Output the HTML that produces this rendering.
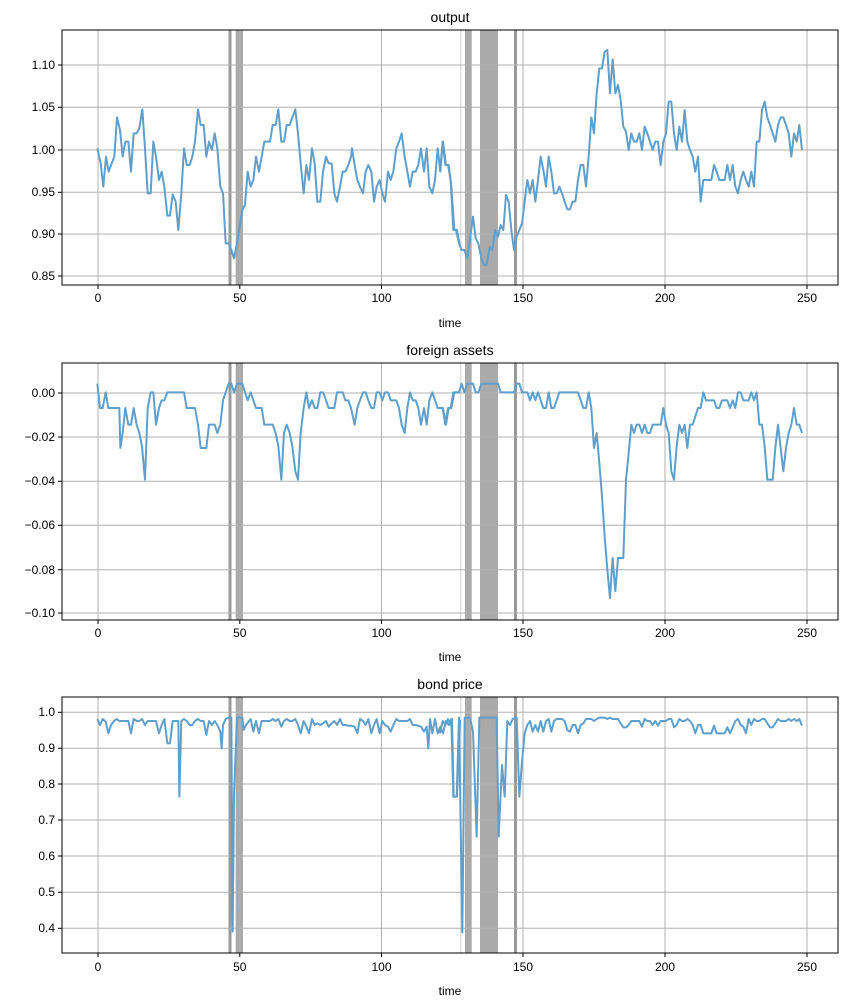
<!DOCTYPE html>
<html><head><meta charset="utf-8"><style>
body{margin:0;background:#fff;}
svg{display:block;font-family:"Liberation Sans",sans-serif;}
</style></head><body>
<svg width="847" height="1007" viewBox="0 0 847 1007" xmlns="http://www.w3.org/2000/svg">
<defs>
<g id="shade">
</g>
</defs>
<rect width="847" height="1007" fill="#fff"/>

<!-- ============ Panel 1 ============ -->
<g>
<clipPath id="c1"><rect x="62" y="30" width="776" height="255"/></clipPath>
<g clip-path="url(#c1)">
<rect x="460" y="30" width="1.5" height="255" fill="#ddd"/>
<rect x="228.5" y="30" width="3" height="255" fill="#999"/>
<rect x="235.7" y="30" width="7.3" height="255" fill="#aaa"/>
<rect x="465" y="30" width="6.7" height="255" fill="#aaa"/>
<rect x="480" y="30" width="18" height="255" fill="#aaa"/>
<rect x="514" y="30" width="3" height="255" fill="#999"/>
<g stroke="#b0b0b0" stroke-width="1">
<line x1="98" y1="30" x2="98" y2="285"/><line x1="239.8" y1="30" x2="239.8" y2="285"/><line x1="381.5" y1="30" x2="381.5" y2="285"/><line x1="523" y1="30" x2="523" y2="285"/><line x1="665" y1="30" x2="665" y2="285"/><line x1="807" y1="30" x2="807" y2="285"/>
<line x1="62" y1="65" x2="838" y2="65"/><line x1="62" y1="107.3" x2="838" y2="107.3"/><line x1="62" y1="150" x2="838" y2="150"/><line x1="62" y1="192.3" x2="838" y2="192.3"/><line x1="62" y1="234" x2="838" y2="234"/><line x1="62" y1="276" x2="838" y2="276"/>
</g>
<g transform="translate(60,30) scale(0.33333)" fill="none" stroke="#5f9fcb" stroke-width="6" stroke-linejoin="round">
<polyline points="112,355 122,400 130,470 138,380 146,425 155,400 163,380 171,262 180,300 188,380 196,335 205,335 213,425 221,310 230,310 238,295 247,238 255,355 263,490 272,490 280,335 288,380 297,450 305,425 313,470 322,557 330,557 338,493 347,515 355,600 364,490 372,355 380,405 389,405 397,380 405,335 414,238 422,285 431,285 439,380 447,335 456,360 464,310 472,355 481,470 489,490 497,640 506,640 514,660 522,685 531,640 539,590 547,540 555,525 563,425 572,470 580,450 588,380 597,425 605,380 613,335 622,335 630,335 638,285 647,285 655,238 664,335 672,335 680,285 689,285 697,262 706,238 714,310 722,400 731,490 739,405 747,450 756,355 764,400 772,515 781,515 789,425 798,380 806,400 815,400 823,490 831,515 840,470 848,425 856,425 865,405 873,380 876,355 884,405 892,450 900,470 909,490 917,425 925,405 934,425 942,515 950,470 959,450 967,490 975,515 984,425 992,450 1000,425 1009,355 1017,335 1025,310 1034,380 1042,425 1050,470 1058,425 1067,425 1075,405 1083,355 1092,425 1100,355 1108,470 1117,490 1125,450 1133,355 1141,425 1149,335 1158,405 1166,405 1174,470 1183,600 1191,600 1200,650"/>
</g>
<g transform="translate(440,30) scale(0.33333)" fill="none" stroke="#5f9fcb" stroke-width="6" stroke-linejoin="round">
<polyline points="0,425 8,335 16,405 24,405 32,450 40,600 48,600 57,640 65,660 73,660 82,685 90,625 99,560 107,625 115,640 124,685 132,705 140,705 149,650 157,660 165,600 174,620 182,585 190,600 198,495 206,515 214,600 222,660 230,620 238,600 246,580 254,515 262,450 270,490 278,450 286,515 294,450 302,380 310,420 318,470 326,380 334,425 342,490 350,490 358,470 366,490 374,515 382,538 390,538 398,515 406,515 414,450 422,405 430,405 438,470 446,380 454,262 462,310 470,190 478,115 486,115 494,65 502,60 510,190 518,88 526,190 534,165 542,210 550,290 558,305 566,360 574,310 582,335 590,335 598,310 606,360 614,290 622,310 630,335 638,360 646,335 654,335 662,405 670,335 678,310 686,215 694,215 702,310 710,360 718,290 726,335 734,240 742,335 750,360 758,380 766,425 774,380 782,515 790,450 798,450 806,450 814,450 822,405 830,425 838,450 846,450 854,450 862,405 870,450 878,405 886,470 894,490 902,450 910,425 918,450 926,470 934,425 942,470 950,335 958,335 966,240 974,215 982,262 990,285 998,310 1006,335 1014,285 1022,262 1030,262 1038,285 1046,310 1054,380 1062,310 1070,335 1078,285 1086,360"/>
</g>
</g>
<rect x="62" y="30" width="776" height="255" fill="none" stroke="#000" stroke-width="1"/>
<g stroke="#000"><line x1="98" y1="285" x2="98" y2="289"/><line x1="239.8" y1="285" x2="239.8" y2="289"/><line x1="381.5" y1="285" x2="381.5" y2="289"/><line x1="523" y1="285" x2="523" y2="289"/><line x1="665" y1="285" x2="665" y2="289"/><line x1="807" y1="285" x2="807" y2="289"/>
<line x1="58" y1="65" x2="62" y2="65"/><line x1="58" y1="107.3" x2="62" y2="107.3"/><line x1="58" y1="150" x2="62" y2="150"/><line x1="58" y1="192.3" x2="62" y2="192.3"/><line x1="58" y1="234" x2="62" y2="234"/><line x1="58" y1="276" x2="62" y2="276"/></g>
<g font-size="12" fill="#000" text-anchor="middle"><text x="98" y="302">0</text><text x="239.8" y="302">50</text><text x="381.5" y="302">100</text><text x="523" y="302">150</text><text x="665" y="302">200</text><text x="807" y="302">250</text><text x="450" y="327">time</text><text x="450" y="22" font-size="14">output</text></g>
<g font-size="12" fill="#000" text-anchor="end"><text x="55" y="69">1.10</text><text x="55" y="111">1.05</text><text x="55" y="154">1.00</text><text x="55" y="196">0.95</text><text x="55" y="238">0.90</text><text x="55" y="280">0.85</text></g>
</g>

<!-- ============ Panel 2 ============ -->
<g>
<clipPath id="c2"><rect x="62" y="363" width="776" height="257"/></clipPath>
<g clip-path="url(#c2)">
<rect x="460" y="363" width="1.5" height="257" fill="#ddd"/>
<rect x="228.5" y="363" width="3" height="257" fill="#999"/>
<rect x="235.7" y="363" width="7.3" height="257" fill="#aaa"/>
<rect x="465" y="363" width="6.7" height="257" fill="#aaa"/>
<rect x="480" y="363" width="18" height="257" fill="#aaa"/>
<rect x="514" y="363" width="3" height="257" fill="#999"/>
<g stroke="#b0b0b0" stroke-width="1">
<line x1="98" y1="363" x2="98" y2="620"/><line x1="239.8" y1="363" x2="239.8" y2="620"/><line x1="381.5" y1="363" x2="381.5" y2="620"/><line x1="523" y1="363" x2="523" y2="620"/><line x1="665" y1="363" x2="665" y2="620"/><line x1="807" y1="363" x2="807" y2="620"/>
<line x1="62" y1="393" x2="838" y2="393"/><line x1="62" y1="437" x2="838" y2="437"/><line x1="62" y1="481.3" x2="838" y2="481.3"/><line x1="62" y1="525.3" x2="838" y2="525.3"/><line x1="62" y1="569.7" x2="838" y2="569.7"/><line x1="62" y1="613" x2="838" y2="613"/>
</g>
<g transform="translate(60,363) scale(0.33333)" fill="none" stroke="#5f9fcb" stroke-width="6" stroke-linejoin="round">
<polyline points="112,62 120,135 128,135 137,88 145,135 153,135 162,135 170,135 178,135 181,255 188,210 196,135 205,185 213,185 221,135 230,185 238,210 246,250 255,350 263,135 272,88 280,88 288,185 297,135 305,112 313,112 322,88 330,88 338,88 347,88 355,88 364,88 372,88 380,135 389,135 397,135 405,135 414,185 422,255 431,255 439,255 447,185 456,185 464,185 472,210 481,185 489,112 497,88 506,62 514,62 522,88 531,62 539,62 547,62 555,88 563,112 572,88 580,112 588,135 597,135 605,135 613,185 622,185 630,185 638,185 647,210 655,250 664,350 672,210 680,185 689,210 697,250 706,325 714,350 722,210 731,135 739,88 747,135 756,112 764,135 772,135 781,88 789,88 798,112 806,135 815,135 823,135 831,88 840,88 848,88 856,112 865,112 873,135 884,185 892,135 900,112 909,88 917,88 925,112 934,135 942,135 950,88 959,88 967,112 975,88 984,88 992,112 1000,112 1009,112 1017,135 1025,185 1034,210 1042,135 1050,88 1058,112 1067,112 1075,135 1083,185 1092,135 1100,185 1108,112 1117,88 1125,112 1133,135 1141,135 1149,135 1158,185 1166,135 1174,135 1183,88 1191,88 1200,88"/>
</g>
<g transform="translate(440,363) scale(0.33333)" fill="none" stroke="#5f9fcb" stroke-width="6" stroke-linejoin="round">
<polyline points="0,135 8,135 16,185 24,135 32,135 40,88 48,88 57,88 65,62 73,88 82,62 90,62 99,62 107,88 115,88 124,62 132,62 140,62 149,62 157,62 165,62 174,62 182,88 190,88 198,88 206,88 214,88 222,88 230,62 238,62 246,88 254,88 262,88 270,112 278,88 286,112 294,88 302,112 310,135 318,135 326,88 334,135 342,135 350,112 358,88 366,88 374,88 382,88 390,88 398,88 406,88 414,88 422,112 430,135 438,135 446,88 454,135 462,255 470,210 478,300 486,400 494,520 502,620 510,705 518,585 526,685 534,585 542,585 550,585 558,350 566,270 574,185 582,210 590,185 598,185 606,210 614,185 622,210 630,210 638,185 646,185 654,185 662,185 670,135 678,185 686,210 694,325 702,350 710,250 718,185 726,210 734,185 742,255 750,185 758,185 766,160 774,135 782,135 790,88 798,112 806,112 814,112 822,112 830,135 838,135 846,112 854,112 862,112 870,135 878,112 886,135 894,88 902,88 910,112 918,112 926,112 934,88 942,112 950,88 958,185 966,185 974,250 982,350 990,350 998,350 1006,255 1014,185 1022,255 1030,325 1038,255 1046,210 1054,185 1062,135 1070,185 1078,185 1086,210"/>
</g>
</g>
<rect x="62" y="363" width="776" height="257" fill="none" stroke="#000" stroke-width="1"/>
<g stroke="#000"><line x1="98" y1="620" x2="98" y2="624"/><line x1="239.8" y1="620" x2="239.8" y2="624"/><line x1="381.5" y1="620" x2="381.5" y2="624"/><line x1="523" y1="620" x2="523" y2="624"/><line x1="665" y1="620" x2="665" y2="624"/><line x1="807" y1="620" x2="807" y2="624"/>
<line x1="58" y1="393" x2="62" y2="393"/><line x1="58" y1="437" x2="62" y2="437"/><line x1="58" y1="481.3" x2="62" y2="481.3"/><line x1="58" y1="525.3" x2="62" y2="525.3"/><line x1="58" y1="569.7" x2="62" y2="569.7"/><line x1="58" y1="613" x2="62" y2="613"/></g>
<g font-size="12" fill="#000" text-anchor="middle"><text x="98" y="637">0</text><text x="239.8" y="637">50</text><text x="381.5" y="637">100</text><text x="523" y="637">150</text><text x="665" y="637">200</text><text x="807" y="637">250</text><text x="450" y="661">time</text><text x="450" y="355" font-size="14">foreign assets</text></g>
<g font-size="12" fill="#000" text-anchor="end"><text x="55" y="397">0.00</text><text x="55" y="441">−0.02</text><text x="55" y="485">−0.04</text><text x="55" y="529">−0.06</text><text x="55" y="574">−0.08</text><text x="55" y="617">−0.10</text></g>
</g>

<!-- ============ Panel 3 ============ -->
<g>
<clipPath id="c3"><rect x="62" y="697" width="776" height="256"/></clipPath>
<g clip-path="url(#c3)">
<rect x="460" y="697" width="1.5" height="256" fill="#ddd"/>
<rect x="228.5" y="697" width="3" height="256" fill="#999"/>
<rect x="235.7" y="697" width="7.3" height="256" fill="#aaa"/>
<rect x="465" y="697" width="6.7" height="256" fill="#aaa"/>
<rect x="480" y="697" width="18" height="256" fill="#aaa"/>
<rect x="514" y="697" width="3" height="256" fill="#999"/>
<g stroke="#b0b0b0" stroke-width="1">
<line x1="98" y1="697" x2="98" y2="953"/><line x1="239.8" y1="697" x2="239.8" y2="953"/><line x1="381.5" y1="697" x2="381.5" y2="953"/><line x1="523" y1="697" x2="523" y2="953"/><line x1="665" y1="697" x2="665" y2="953"/><line x1="807" y1="697" x2="807" y2="953"/>
<line x1="62" y1="712.3" x2="838" y2="712.3"/><line x1="62" y1="748.3" x2="838" y2="748.3"/><line x1="62" y1="784" x2="838" y2="784"/><line x1="62" y1="820" x2="838" y2="820"/><line x1="62" y1="856" x2="838" y2="856"/><line x1="62" y1="892.3" x2="838" y2="892.3"/><line x1="62" y1="928.3" x2="838" y2="928.3"/>
</g>
<g transform="translate(60,695) scale(0.33333)" fill="none" stroke="#5f9fcb" stroke-width="6" stroke-linejoin="round">
<polyline points="112,72 120,90 128,72 137,80 145,115 153,90 162,78 170,72 178,78 186,78 196,78 205,78 213,115 221,72 230,78 238,78 246,72 255,90 263,78 272,78 280,78 288,78 297,115 305,90 313,72 322,145 330,145 338,78 347,78 355,78 358,305 364,78 372,72 380,78 389,90 397,90 405,78 414,72 422,78 431,78 439,120 447,78 456,90 464,78 472,90 481,110 485,160 489,90 497,72 506,68 514,68 518,710 522,300 531,68 539,68 547,68 551,105 558,90 572,72 580,110 588,78 597,115 605,78 613,78 622,78 630,78 638,72 647,78 655,72 664,95 672,78 680,72 689,78 697,78 706,72 714,90 722,115 731,78 739,95 747,115 756,72 764,90 772,85 781,90 789,85 798,78 806,95 815,85 823,78 831,90 840,72 848,90 856,90 865,92 873,92 884,95 892,115 900,72 909,78 917,90 925,72 934,115 942,90 950,72 959,115 967,78 975,90 984,95 992,110 1000,90 1009,72 1017,78 1025,78 1034,78 1042,78 1050,72 1058,90 1067,90 1075,92 1083,95 1092,110 1100,95 1105,160 1110,72 1117,115 1125,72 1133,115 1141,95 1149,115 1158,78 1166,90 1174,72 1180,305 1191,305 1200,75"/>
</g>
<g transform="translate(440,695) scale(0.33333)" fill="none" stroke="#5f9fcb" stroke-width="6" stroke-linejoin="round">
<polyline points="0,115 8,78 16,90 24,72 32,90 36,72 41,305 50,305 57,68 67,712 74,68 82,68 90,68 99,110 110,425 118,68 126,68 134,68 142,68 150,68 158,68 166,68 170,68 176,425 186,210 194,305 202,78 210,90 218,72 226,68 230,68 238,305 246,200 254,115 262,90 270,78 278,110 286,90 294,110 302,78 310,110 318,78 326,72 334,110 342,78 350,72 358,72 366,72 374,78 382,105 390,110 398,90 406,90 414,115 422,90 430,85 438,72 446,72 454,72 462,78 470,72 478,68 486,68 494,68 502,72 510,68 518,72 526,72 534,72 542,85 550,97 558,97 566,90 574,78 582,78 590,78 598,78 606,95 614,72 622,78 630,78 638,90 646,78 654,92 662,78 670,78 678,78 686,72 694,72 702,97 710,90 718,72 726,78 734,78 742,72 750,78 758,90 766,115 774,90 782,90 790,115 798,115 806,115 814,115 822,92 830,115 838,115 846,115 854,115 862,97 870,115 878,97 886,78 894,72 902,90 910,95 918,115 926,72 934,90 942,72 950,78 958,78 966,72 974,72 982,85 990,97 998,97 1006,85 1014,72 1022,78 1030,78 1038,78 1046,72 1054,78 1062,72 1070,78 1078,72 1086,92"/>
</g>
</g>
<rect x="62" y="697" width="776" height="256" fill="none" stroke="#000" stroke-width="1"/>
<g stroke="#000"><line x1="98" y1="953" x2="98" y2="957"/><line x1="239.8" y1="953" x2="239.8" y2="957"/><line x1="381.5" y1="953" x2="381.5" y2="957"/><line x1="523" y1="953" x2="523" y2="957"/><line x1="665" y1="953" x2="665" y2="957"/><line x1="807" y1="953" x2="807" y2="957"/>
<line x1="58" y1="712.3" x2="62" y2="712.3"/><line x1="58" y1="748.3" x2="62" y2="748.3"/><line x1="58" y1="784" x2="62" y2="784"/><line x1="58" y1="820" x2="62" y2="820"/><line x1="58" y1="856" x2="62" y2="856"/><line x1="58" y1="892.3" x2="62" y2="892.3"/><line x1="58" y1="928.3" x2="62" y2="928.3"/></g>
<g font-size="12" fill="#000" text-anchor="middle"><text x="98" y="971">0</text><text x="239.8" y="971">50</text><text x="381.5" y="971">100</text><text x="523" y="971">150</text><text x="665" y="971">200</text><text x="807" y="971">250</text><text x="450" y="995">time</text><text x="450" y="689" font-size="14">bond price</text></g>
<g font-size="12" fill="#000" text-anchor="end"><text x="55" y="716">1.0</text><text x="55" y="752">0.9</text><text x="55" y="788">0.8</text><text x="55" y="824">0.7</text><text x="55" y="860">0.6</text><text x="55" y="896">0.5</text><text x="55" y="932">0.4</text></g>
</g>
</svg>
</body></html>
